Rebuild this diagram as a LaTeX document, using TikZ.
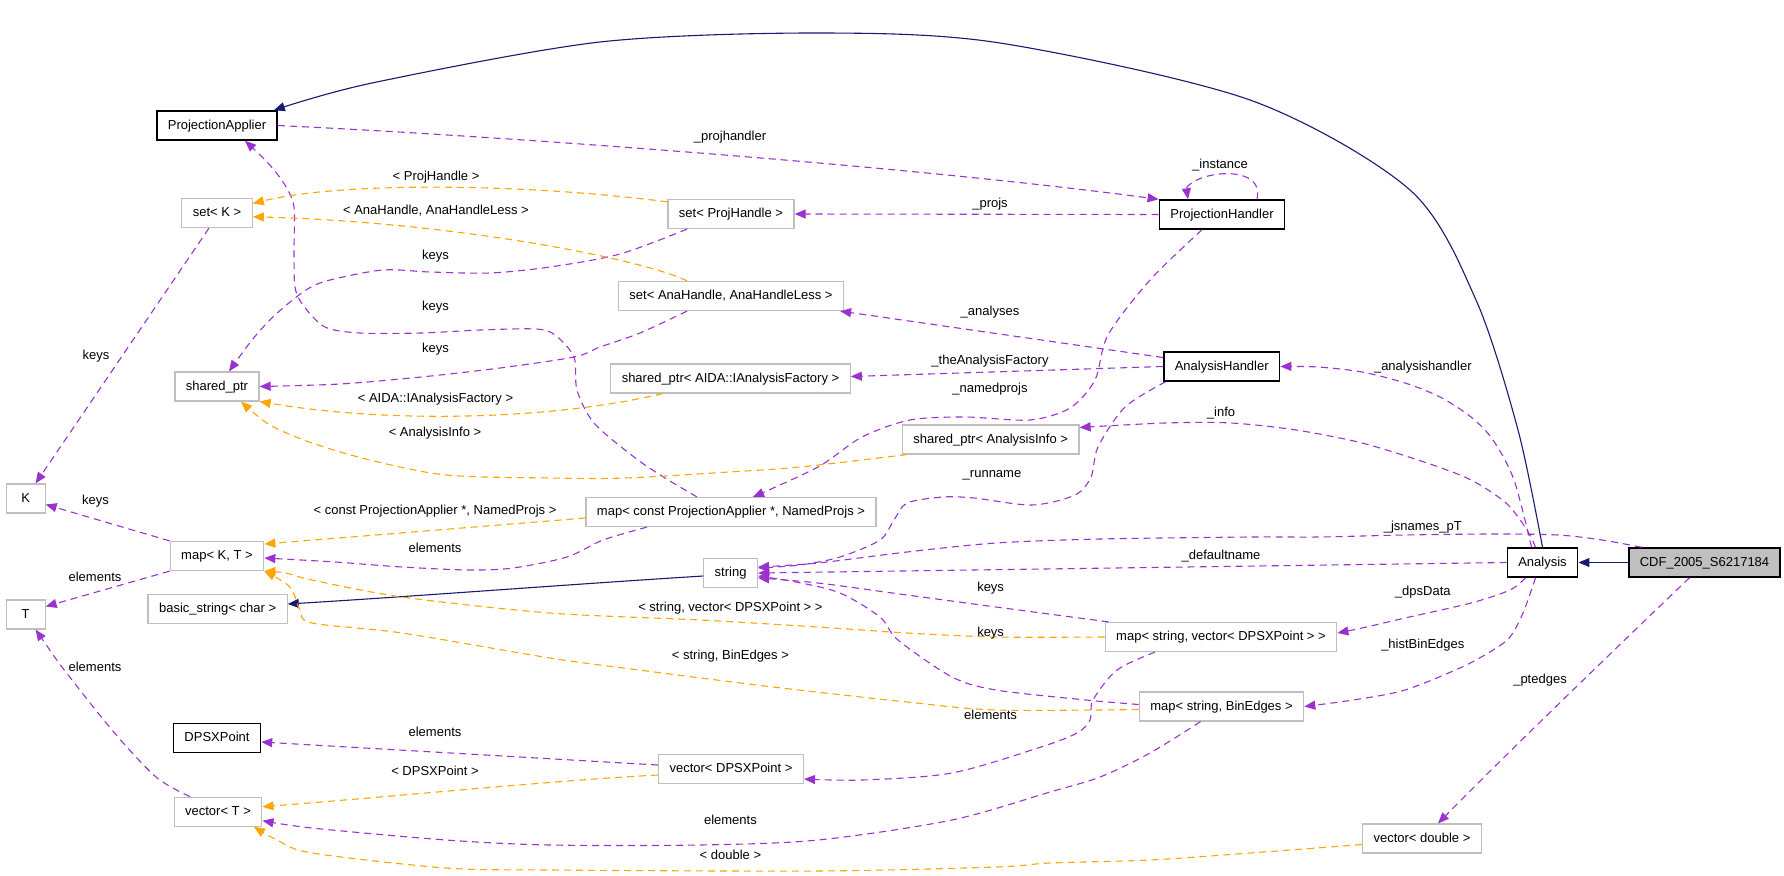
\documentclass[tikz,border=0pt]{standalone}
\usepackage{fontspec}
\setmainfont{Liberation Sans}
\usetikzlibrary{arrows.meta}
\definecolor{dxpurple}{HTML}{9A32CD}
\definecolor{dxorange}{HTML}{FFA500}
\definecolor{dxnavy}{HTML}{191970}
\definecolor{dxgrey}{HTML}{BFBFBF}
\begin{document}
\begin{tikzpicture}[x=1pt,y=-1pt,
  box/.style={rectangle, font=\fontsize{13}{15}\selectfont, inner xsep=11pt, inner ysep=0pt,
    minimum height=29pt, text height=9.5pt, text depth=2.5pt},
  doc/.style={box, draw=black, line width=1.5pt},
  und/.style={box, draw=dxgrey, line width=1.2pt},
  cur/.style={box, draw=black, fill=dxgrey, line width=1.5pt},
  lbl/.style={font=\fontsize{13}{15}\selectfont, inner sep=0pt},
  tipped/.style={-{Triangle[length=11pt,width=9pt]}},
  mem/.style={tipped, draw=dxpurple, line width=1.1pt, dash pattern=on 7pt off 5pt},
  tpl/.style={tipped, draw=dxorange, line width=1.1pt, dash pattern=on 7pt off 5pt},
  inh/.style={tipped, draw=dxnavy, line width=1.1pt}
]
\useasboundingbox (0,0) rectangle (1784,875);

% nodes
\node[doc] (PA) at (217,125.5) {ProjectionApplier};
\node[und] (setK) at (217,213) {set< K >};
\node[und] (sharedptr) at (217,386.5) {shared\_ptr};
\node[und, minimum width=39pt] (K) at (25.6,498.5) {K};
\node[und] (mapKT) at (217,556) {map< K, T >};
\node[und, minimum width=39pt] (T) at (25.6,614.5) {T};
\node[und] (bstring) at (217.6,609) {basic\_string< char >};
\node[doc] (DPSXPoint) at (217,738) {DPSXPoint};
\node[und] (vectorT) at (218,811.7) {vector< T >};
\node[und] (setPH) at (731,214) {set< ProjHandle >};
\node[und] (setAH) at (731,296) {set< AnaHandle, AnaHandleLess >};
\node[und] (spAIDA) at (730.5,378.5) {shared\_ptr< AIDA::IAnalysisFactory >};
\node[und] (mapPA) at (731,512) {map< const ProjectionApplier *, NamedProjs >};
\node[und] (string) at (730.6,573) {string};
\node[und] (vDPSX) at (731,769) {vector< DPSXPoint >};
\node[doc] (PH) at (1222,214.5) {ProjectionHandler};
\node[doc] (AH) at (1221.7,366.5) {AnalysisHandler};
\node[und] (spAI) at (990.7,439.5) {shared\_ptr< AnalysisInfo >};
\node[und] (mapSV) at (1221,637) {map< string, vector< DPSXPoint > >};
\node[und] (mapSB) at (1221.5,706.5) {map< string, BinEdges >};
\node[doc] (Analysis) at (1542.5,562.5) {Analysis};
\node[cur] (CDF) at (1704.5,562.5) {CDF\_2005\_S6217184};
\node[und] (vdouble) at (1422,838.5) {vector< double >};

% inheritance
\draw[inh] plot[smooth] coordinates {(Analysis.north) (1518,430) (1476,300) (1410,190) (1250,100) (1000,43) (820,33) (600,42) (372,83) ([xshift=-4pt]PA.north east)};
\draw[inh] (CDF.west) -- (Analysis.east);
\draw[inh] ([yshift=-3pt]string.west) .. controls (560,585) and (420,596) .. ([yshift=5pt]bstring.east);

% members
\draw[mem] (PA.east) .. controls (500,136) and (900,165) .. (PH.north west);
\draw[mem] ([xshift=35pt]PH.north) .. controls (1262,178) and (1240,172) .. (1220,174) .. controls (1198,176) and (1186,186) .. ([xshift=-34pt]PH.north);
\draw[mem] (PH.west) -- (setPH.east);
\draw[mem] plot[smooth] coordinates {([xshift=-44pt]setPH.south) (620,254) (550,267) (490,273) (430,272) (383,270) (330,280) (306,290) (275,315) (252,340) ([xshift=12pt]sharedptr.north)};
\draw[mem] plot[smooth] coordinates {([xshift=-44pt]setAH.south) (640,333) (600,347) (574,357) (500,368) (421,377) (340,384) (sharedptr.east)};
\draw[mem] plot[smooth] coordinates {([xshift=-34pt]mapPA.north) (665,478) (634,457) (594,423) (577,390) (574,357) (555,335) (536,329) (480,330) (421,333) (360,333) (325,327) (303,305) (295,287) (294,250) (294,207) (285,185) (268,163) ([xshift=28pt]PA.south)};
\draw[mem] ([yshift=9pt]AH.west) -- ([xshift=-4pt]setAH.south east);
\draw[mem] (AH.west) -- ([yshift=2pt]spAIDA.east);
\draw[mem] plot[smooth] coordinates {([xshift=-20pt]PH.south) (1150,280) (1108,335) (1095,380) (1070,408) (1030,420) (965,417) (910,420) (862,437) (818,467) ([xshift=22pt]mapPA.north)};
\draw[mem] plot[smooth] coordinates {([xshift=-56pt]AH.south) (1125,407) (1098,447) (1091,477) (1075,495) (1032,505) (974,498) (943,497) (907,503) (894,520) (880,540) (840,557) (800,565) ([yshift=5pt]string.east)};
\draw[mem] plot[smooth] coordinates {([xshift=-11pt]Analysis.north) (1514,480) (1493,440) (1471,417) (1440,397) (1405,383) (1362,372) (1318,367) (AH.east)};
\draw[mem] plot[smooth] coordinates {([xshift=-7pt]Analysis.north) (1527,530) (1506,503) (1471,480) (1427,463) (1362,443) (1296,430) (1231,423) (1165,423) ([yshift=12pt]spAI.east)};
\draw[mem] plot[smooth] coordinates {([xshift=-63pt]CDF.north) (1602,540) (1558,535) (1493,534) (1405,535) (1318,537) (1250,537) (1100,539) (996,543) (907,552) (818,563) ([yshift=6pt]string.east)};
\draw[mem] (Analysis.west) -- (string.east);
\draw[mem] plot[smooth] coordinates {([xshift=-17pt]Analysis.south) (1510,590) (1471,603) (1405,618) (1362,628) ([yshift=4pt]mapSV.east)};
\draw[mem] plot[smooth] coordinates {([xshift=-7pt]Analysis.south) (1523,613) (1510,637) (1493,650) (1462,667) (1405,690) (1353,700) (mapSB.east)};
\draw[mem] ([xshift=-15pt]CDF.south) .. controls (1640,625) and (1510,750) .. ([xshift=16pt]vdouble.north);
\draw[mem] plot[smooth] coordinates {([xshift=4pt]mapSV.north west) (996,607) (907,595) (818,583) ([yshift=-5pt]string.east)};
\draw[mem] plot[smooth] coordinates {([yshift=2pt]mapSB.west) (1086,700) (996,690) (952,677) (898,640) (880,617) (840,593) (796,582) ([yshift=-3pt]string.east)};
\draw[mem] plot[smooth] coordinates {([xshift=-84pt]mapPA.south) (603,540) (567,557) (513,568) (469,570) (402,567) (335,562) ([yshift=-2pt]mapKT.east)};
\draw[mem] (mapKT.north west) -- ([yshift=-6pt]K.east);
\draw[mem] (mapKT.south west) -- ([yshift=8pt]T.east);
\draw[mem] ([xshift=-8pt]setK.south) -- ([xshift=10pt]K.north);
\draw[mem] plot[smooth] coordinates {([xshift=-28pt]vectorT.north) (156,777) (112,730) (62,667) (45,643) ([xshift=10pt]T.south)};
\draw[mem] ([yshift=4pt]vDPSX.west) -- ([yshift=-4pt]DPSXPoint.east);
\draw[mem] plot[smooth] coordinates {([xshift=-66pt]mapSV.south) (1117,670) (1093,700) (1090,720) (1077,733) (1041,747) (952,773) (862,780) ([yshift=-10pt]vDPSX.east)};
\draw[mem] plot[smooth] coordinates {([xshift=-21pt]mapSB.south) (1150,753) (1100,777) (1050,792) (952,820) (818,840) (700,845) (550,845) (446,840) (312,828) ([yshift=-9pt]vectorT.east)};

% template instances
\draw[tpl] ([yshift=-3pt]setPH.north west) .. controls (540,185) and (350,180) .. (setK.15);
\draw[tpl] ([xshift=-44pt]setAH.north) .. controls (640,258) and (450,222) .. (setK.-6);
\draw[tpl] ([xshift=-68pt]spAIDA.south) .. controls (560,418) and (400,425) .. (sharedptr.south east);
\draw[tpl] plot[smooth] coordinates {([xshift=-84pt]spAI.south) (800,467) (729,472) (625,478) (550,478) (446,475) (370,460) (312,443) (270,425) ([xshift=24pt]sharedptr.south)};
\draw[tpl] plot[smooth] coordinates {(mapSV.west) (996,637) (907,633) (818,627) (700,620) (550,613) (402,597) (312,580) (286,573) (mapKT.south east)};
\draw[tpl] plot[smooth] coordinates {([yshift=-3pt]mapSB.west) (996,710) (907,702) (773,687) (639,670) (550,658) (402,633) (312,623) (300,610) (290,587) (mapKT.south east)};
\draw[tpl] ([yshift=-6pt]mapPA.west) -- ([yshift=12pt]mapKT.east);
\draw[tpl] ([yshift=-6pt]vDPSX.west) .. controls (560,780) and (400,796) .. ([yshift=5pt]vectorT.east);
\draw[tpl] plot[smooth] coordinates {([yshift=-6pt]vdouble.west) (1250,853) (1150,860) (1050,863) (996,867) (818,871) (550,870) (446,868) (312,853) (277,840) ([xshift=36pt]vectorT.south)};

% labels
\node[lbl] (l1) at (730,137) {\_projhandler};
\node[lbl] (l2) at (1220,165) {\_instance};
\node[lbl] (l3) at (990,204) {\_projs};
\node[lbl] (l4) at (436,177) {< ProjHandle >};
\node[lbl] (l5) at (436,211) {< AnaHandle, AnaHandleLess >};
\node[lbl] (l6) at (435.5,256) {keys};
\node[lbl] (l7) at (435.5,307) {keys};
\node[lbl] (l8) at (435.5,349) {keys};
\node[lbl] (l9) at (435.5,399) {< AIDA::IAnalysisFactory >};
\node[lbl] (l10) at (435,433) {< AnalysisInfo >};
\node[lbl] (l11) at (990,312) {\_analyses};
\node[lbl] (l12) at (990,361) {\_theAnalysisFactory};
\node[lbl] (l13) at (990,389) {\_namedprojs};
\node[lbl] (l14) at (1422.8,366.7) {\_analysishandler};
\node[lbl] (l15) at (1221,412.7) {\_info};
\node[lbl] (l16) at (992,475) {\_runname};
\node[lbl] (l17) at (1422.8,526.7) {\_jsnames\_pT};
\node[lbl] (l18) at (1221,555.7) {\_defaultname};
\node[lbl] (l19) at (1422.8,592) {\_dpsData};
\node[lbl] (l20) at (1422.8,644.7) {\_histBinEdges};
\node[lbl] (l21) at (1540,680) {\_ptedges};
\node[lbl] (l22) at (990.6,587.7) {keys};
\node[lbl] (l23) at (990.6,632.7) {keys};
\node[lbl] (l24) at (730.4,608.3) {< string, vector< DPSXPoint > >};
\node[lbl] (l25) at (730.4,656) {< string, BinEdges >};
\node[lbl] (l26) at (990.6,715.3) {elements};
\node[lbl] (l27) at (730.4,820) {elements};
\node[lbl] (l28) at (730.4,855) {< double >};
\node[lbl] (l29) at (435,511) {< const ProjectionApplier *, NamedProjs >};
\node[lbl] (l30) at (435,547.7) {elements};
\node[lbl] (l31) at (96,356) {keys};
\node[lbl] (l32) at (95.5,500.7) {keys};
\node[lbl] (l33) at (95,576.7) {elements};
\node[lbl] (l34) at (95,666.7) {elements};
\node[lbl] (l35) at (435,732) {elements};
\node[lbl] (l36) at (435,771) {< DPSXPoint >};
\end{tikzpicture}
\end{document}
